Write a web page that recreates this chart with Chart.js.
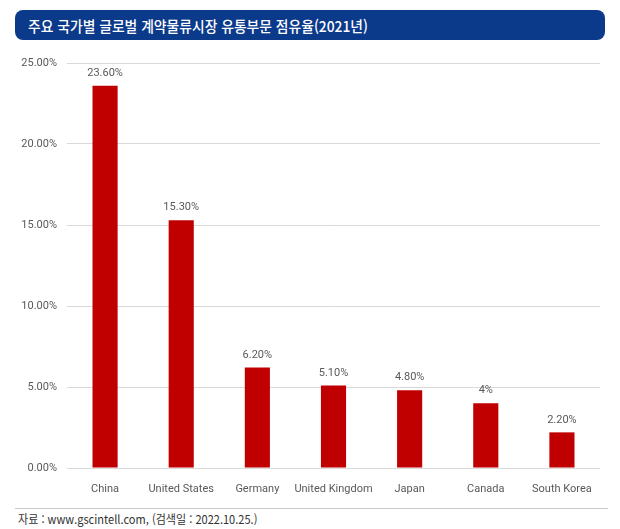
<!DOCTYPE html>
<html lang="ko">
<head>
<meta charset="utf-8">
<script src="https://cdn.jsdelivr.net/npm/chart.js@4.4.1/dist/chart.umd.min.js"></script>
<style>
  body { margin: 0; background: #fff; }
  #wrap { position: relative; width: 620px; height: 529px; overflow: hidden; }
  #title {
    position: absolute; left: 15px; top: 10px; width: 590px; height: 30px;
    background: #0c3a8b; border-radius: 8px;
  }
  #title span {
    position: absolute; left: 13px; top: 5px; color: #fff; white-space: nowrap;
    font: 500 15px "Noto Sans CJK KR", "Noto Sans", sans-serif;
    transform: scaleX(0.92); transform-origin: left center;
  }
  #chart-box { position: absolute; left: 0; top: 45px; width: 620px; height: 460px; }
  #rule { position: absolute; left: 15px; top: 508px; width: 593px; height: 1px; background: #c8c8c8; }
  #source {
    position: absolute; left: 18px; top: 510px; color: #333; white-space: nowrap;
    font: 12px "Noto Sans CJK KR", "Noto Sans", sans-serif;
    transform: scaleX(0.92); transform-origin: left center;
  }
</style>
</head>
<body>
<div id="wrap">
  <div id="title"><span>주요 국가별 글로벌 계약물류시장 유통부문 점유율(2021년)</span></div>
  <div id="chart-box"><canvas id="shareChart"></canvas></div>
  <div id="rule"></div>
  <div id="source">자료 : www.gscintell.com, (검색일 : 2022.10.25.)</div>
</div>
<script>
const countries = ["China", "United States", "Germany", "United Kingdom", "Japan", "Canada", "South Korea"];
const shares = [23.6, 15.3, 6.2, 5.1, 4.8, 4.0, 2.2];
const shareLabels = ["23.60%", "15.30%", "6.20%", "5.10%", "4.80%", "4%", "2.20%"];
const yTicks = [0, 5, 10, 15, 20, 25];

const FONT_FAMILY = "Roboto, sans-serif";
const TEXT_COLOR = "#595959";

// draws the value text above each bar
const barLabels = {
  id: "barLabels",
  afterDatasetsDraw(chart) {
    const ctx = chart.ctx;
    const meta = chart.getDatasetMeta(0);
    ctx.save();
    ctx.font = `11px ${FONT_FAMILY}`;
    ctx.fillStyle = TEXT_COLOR;
    ctx.textAlign = "center";
    ctx.textBaseline = "bottom";
    meta.data.forEach((bar, idx) => {
      ctx.fillText(shareLabels[idx], bar.x, bar.y - 7);
    });
    ctx.restore();
  },
};

new Chart(document.getElementById("shareChart"), {
  type: "bar",
  data: {
    labels: countries,
    datasets: [
      {
        data: shares,
        backgroundColor: "#c00000",
        barPercentage: 0.33,
        categoryPercentage: 1,
      },
    ],
  },
  options: {
    responsive: true,
    maintainAspectRatio: false,
    animation: false,
    layout: { padding: { top: 18, right: 20, left: 0, bottom: 0 } },
    plugins: {
      legend: { display: false },
      tooltip: { enabled: false },
    },
    scales: {
      x: {
        grid: { display: false, drawTicks: false },
        border: { display: false },
        ticks: {
          color: TEXT_COLOR,
          font: { family: FONT_FAMILY, size: 11 },
          padding: 15,
          maxRotation: 0,
          autoSkip: false,
        },
        afterFit(scale) {
          scale.height = 37;
        },
      },
      y: {
        min: 0,
        max: 25,
        afterBuildTicks(scale) {
          scale.ticks = yTicks.map((value) => ({ value }));
        },
        grid: { color: "#d9d9d9", drawTicks: false, lineWidth: 1 },
        border: { display: false },
        ticks: {
          color: TEXT_COLOR,
          font: { family: FONT_FAMILY, size: 11 },
          padding: 10,
          callback: (value) => `${value.toFixed(2)}%`,
        },
        afterFit(scale) {
          scale.width = 67;
        },
      },
    },
  },
  plugins: [barLabels],
});
</script>
</body>
</html>
